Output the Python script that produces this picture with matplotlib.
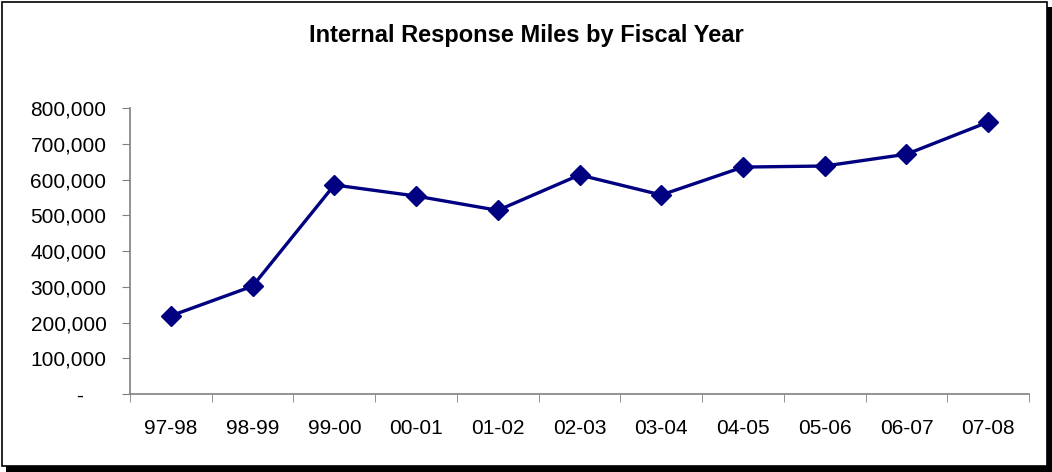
import matplotlib.pyplot as plt
from matplotlib.patches import Rectangle
from matplotlib.ticker import FuncFormatter

plt.rcParams['font.family'] = ['Liberation Sans', 'DejaVu Sans']

# fiscal years and miles
years = ['97-98', '98-99', '99-00', '00-01', '01-02', '02-03',
         '03-04', '04-05', '05-06', '06-07', '07-08']
miles = [219000, 302000, 585000, 554000, 514000, 613000,
         557000, 635000, 638000, 671000, 761000]

fig = plt.figure(figsize=(10.52, 4.72), dpi=100)

# outer frame with drop shadow
fig.patches.append(Rectangle((0.006, 0.0), 0.994, 0.985, transform=fig.transFigure,
                             facecolor='black', edgecolor='none', zorder=0))
fig.patches.append(Rectangle((0.002, 0.013), 0.993, 0.983, transform=fig.transFigure,
                             facecolor='white', edgecolor='black', linewidth=1.2, zorder=1))

ax = fig.add_axes([0.1236, 0.165, 0.8546, 0.606])
ax.set_zorder(2)
ax.patch.set_alpha(0)

x = range(len(years))
ax.plot(x, miles, color='#000080', linewidth=2.4, marker='D', markersize=10,
        clip_on=False)

ax.set_xlim(-0.5, len(years) - 0.5)
ax.set_ylim(0, 800000)
ax.set_yticks(range(0, 800001, 100000))
# accounting style: zero shown as a dash, sitting further left
ax.yaxis.set_major_formatter(FuncFormatter(lambda v, p: '-    ' if v == 0 else f'{int(v):,}'))

ax.set_xticks(list(x))
ax.set_xticklabels(years)
ax.set_xticks([i - 0.5 for i in range(len(years) + 1)], minor=True)
ax.tick_params(axis='x', which='major', length=0, pad=18, labelsize=15)
ax.tick_params(axis='x', which='minor', length=6, direction='out', color='#808080')
ax.tick_params(axis='y', length=6, direction='out', color='#808080', pad=11, labelsize=15)

for s in ['top', 'right']:
    ax.spines[s].set_visible(False)
for s in ['left', 'bottom']:
    ax.spines[s].set_color('#808080')
    ax.spines[s].set_linewidth(1.2)

fig.text(0.5, 0.925, 'Internal Response Miles by Fiscal Year', ha='center', va='center',
         fontsize=17, fontweight='bold')

fig.savefig('out.png', dpi=100)
